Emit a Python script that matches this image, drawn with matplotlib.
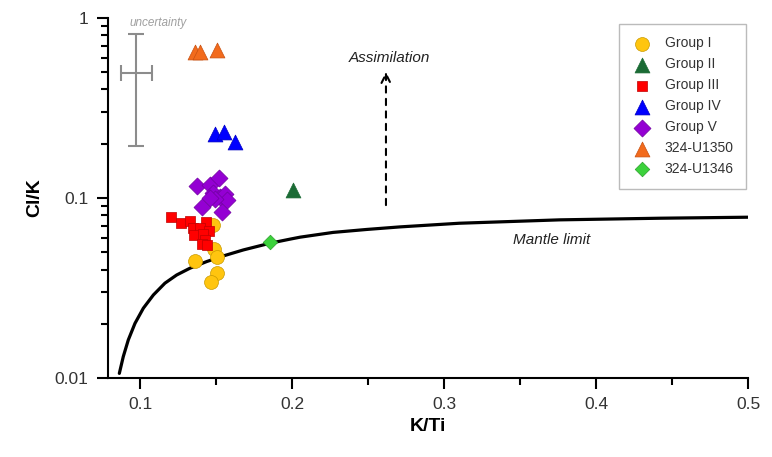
import numpy as np
import matplotlib.pyplot as plt
from matplotlib.ticker import FixedLocator, NullFormatter

plt.rcParams["font.family"] = ["Liberation Sans", "DejaVu Sans"]

# data (K/Ti, Cl/K)
g1_x = [0.148, 0.1487, 0.1507, 0.1362, 0.1507, 0.1467]
g1_y = [0.0708, 0.052, 0.047, 0.0447, 0.0383, 0.0341]

g2_x = [0.2007]
g2_y = [0.111]

g3_x = [0.1204, 0.127, 0.1329, 0.1434, 0.1349, 0.1395, 0.1454, 0.1355, 0.1414, 0.1428, 0.1408, 0.1441]
g3_y = [0.0784, 0.0726, 0.0745, 0.0735, 0.0681, 0.0681, 0.0656, 0.0623, 0.063, 0.0585, 0.0555, 0.0548]

g4_x = [0.1493, 0.1553, 0.1625]
g4_y = [0.227, 0.233, 0.205]

g5_x = [0.1375, 0.146, 0.152, 0.148, 0.1526, 0.156, 0.157, 0.1408, 0.154, 0.1493, 0.146]
g5_y = [0.1166, 0.118, 0.129, 0.1066, 0.1013, 0.105, 0.0975, 0.089, 0.0836, 0.099, 0.1]

u1350_x = [0.136, 0.1395, 0.1507]
u1350_y = [0.647, 0.647, 0.66]

u1346_x = [0.1855]
u1346_y = [0.057]

# mantle limit curve
mantle_x = [0.0864, 0.089, 0.0923, 0.0967, 0.1022, 0.1088, 0.1164, 0.1241, 0.1329, 0.1439,
            0.1548, 0.168, 0.1855, 0.1987, 0.2053, 0.227, 0.2493, 0.271, 0.31, 0.376,
            0.442, 0.5]
mantle_y = [0.0106, 0.01314, 0.01626, 0.0201, 0.0244, 0.0289, 0.0336, 0.0373, 0.0407, 0.0443,
            0.0476, 0.0514, 0.056, 0.059, 0.0605, 0.0643, 0.0668, 0.069, 0.0723, 0.0755,
            0.0771, 0.0781]

fig = plt.figure(figsize=(7.72, 4.57), dpi=100)
ax = fig.add_axes([0.14, 0.173, 0.829, 0.788])

ax.plot(mantle_x, mantle_y, color="black", lw=2.3, solid_capstyle="round",
        solid_joinstyle="round", zorder=2)

edge = dict(linewidths=0.5)
ax.scatter(g1_x, g1_y, s=100, marker="o", color="#FFC50F", edgecolors="#C99A00", label="Group I", zorder=3, **edge)
ax.scatter(g2_x, g2_y, s=115, marker="^", color="#1B6B35", edgecolors="#1B6B35", label="Group II", zorder=3, **edge)
ax.scatter(g3_x, g3_y, s=60, marker="s", color="#FF0000", edgecolors="#C00000", label="Group III", zorder=4, **edge)
ax.scatter(g4_x, g4_y, s=115, marker="^", color="#0000FF", edgecolors="#0000C0", label="Group IV", zorder=3, **edge)
ax.scatter(g5_x, g5_y, s=75, marker="D", color="#9400D3", edgecolors="#7000A0", label="Group V", zorder=3, **edge)
ax.scatter(u1350_x, u1350_y, s=115, marker="^", color="#F26B1D", edgecolors="#C85010", label="324-U1350", zorder=3, **edge)
ax.scatter(u1346_x, u1346_y, s=55, marker="D", color="#3CD23C", edgecolors="#2AA02A", label="324-U1346", zorder=3, **edge)

# uncertainty bar
ax.errorbar([0.0974], [0.493], xerr=[[0.0101], [0.0107]], yerr=[[0.300], [0.322]],
            color="#8C8C8C", lw=1.5, capsize=6, capthick=1.5, zorder=2)
ax.text(0.1118, 0.94, "uncertainty", color="#A0A0A0", style="italic", fontsize=8.5,
        ha="center", va="center")

# assimilation arrow
ax.annotate("", xy=(0.2618, 0.52), xytext=(0.2618, 0.088),
            arrowprops=dict(arrowstyle="->", color="black", lw=1.5, linestyle=(0, (3, 3)),
                            mutation_scale=16))
ax.text(0.2638, 0.6, "Assimilation", style="italic", fontsize=11, ha="center", va="center", color="#222222")
ax.text(0.371, 0.058, "Mantle limit", style="italic", fontsize=11, ha="center", va="center", color="#222222")

ax.set_yscale("log")
ax.set_xlim(0.079, 0.5)
ax.set_ylim(0.01, 1)

ax.xaxis.set_major_locator(FixedLocator([0.1, 0.2, 0.3, 0.4, 0.5]))
ax.xaxis.set_minor_locator(FixedLocator([0.15, 0.25, 0.35, 0.45]))
ax.set_xticklabels(["0.1", "0.2", "0.3", "0.4", "0.5"])
ax.set_yticks([0.01, 0.1, 1])
ax.set_yticklabels(["0.01", "0.1", "1"])
ax.yaxis.set_minor_formatter(NullFormatter())

ax.tick_params(which="major", direction="out", length=8, width=1.5, labelsize=12.5,
               labelcolor="#333333", pad=6)
ax.tick_params(which="minor", direction="out", length=5, width=1.5)

for s in ["top", "right"]:
    ax.spines[s].set_visible(False)
for s in ["left", "bottom"]:
    ax.spines[s].set_linewidth(1.5)

ax.set_xlabel("K/Ti", fontsize=14, fontweight="bold", labelpad=4)
ax.set_ylabel("Cl/K", fontsize=14, fontweight="bold", labelpad=8)

leg = ax.legend(loc="upper right", bbox_to_anchor=(0.997, 0.983), borderaxespad=0,
                fontsize=10, frameon=True, fancybox=False, edgecolor="#AAAAAA",
                labelspacing=0.5, handletextpad=0.9, borderpad=0.9, scatterpoints=1,
                handlelength=1.5)
for t in leg.get_texts():
    t.set_color("#333333")
leg.get_frame().set_linewidth(1.0)

fig.savefig("out.png", dpi=100)
